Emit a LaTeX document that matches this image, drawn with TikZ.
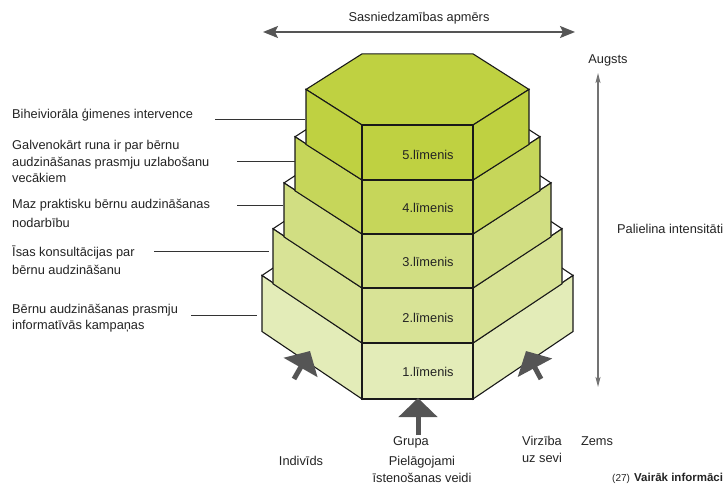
\documentclass[tikz,border=0pt]{standalone}
\usepackage{fontspec}
\setmainfont{Liberation Sans}
\usetikzlibrary{arrows.meta}
\definecolor{gFive}{RGB}{191,209,65}
\definecolor{gFour}{RGB}{198,214,90}
\definecolor{gThree}{RGB}{209,222,130}
\definecolor{gTwo}{RGB}{216,227,150}
\definecolor{gOne}{RGB}{227,236,184}
\definecolor{arrowgray}{RGB}{85,85,85}
\definecolor{txt}{RGB}{35,35,35}
\newcommand\pyrlevel[6]{% #1 top, #2 bottom, #3 half-extent, #4 slope, #5 side colour, #6 top colour
  \pgfmathsetmacro\pxl{362-#3}
  \pgfmathsetmacro\pxr{473+#3}
  \pgfmathsetmacro\pta{#1-#4*#3}
  \pgfmathsetmacro\ptb{#1-2*#4*#3}
  \pgfmathsetmacro\pba{#2-#4*#3}
  \draw[face, fill=#6] (362,#1) -- (\pxl,\pta) -- (362,\ptb) -- (473,\ptb) -- (\pxr,\pta) -- (473,#1) -- cycle;
  \draw[face, fill=#5] (362,#1) -- (362,#2) -- (\pxl,\pba) -- (\pxl,\pta) -- cycle;
  \draw[face, fill=#5] (473,#1) -- (473,#2) -- (\pxr,\pba) -- (\pxr,\pta) -- cycle;
  \draw[face, fill=#5] (362,#1) rectangle (473,#2);
}
\begin{document}
\begin{tikzpicture}[x=1pt,y=-1pt,
  font=\fontsize{12.8}{17}\selectfont,
  face/.style={draw=black!90, line width=1.1pt, line join=miter},
  lbl/.style={text=txt, inner sep=0pt},
  leader/.style={draw=black!80, line width=0.9pt},
  blockarrow/.style={draw=arrowgray, line width=5pt, -{Triangle[width=38pt,length=19pt]}},
  dimarrow/.style={draw=arrowgray, line width=1.8pt, {Stealth[length=15pt,width=12pt,inset=3pt]}-{Stealth[length=15pt,width=12pt,inset=3pt]}},
  axisarrow/.style={draw=black!55, line width=1.1pt, {Stealth[length=10pt,width=5pt,inset=2pt]}-{Stealth[length=10pt,width=5pt,inset=2pt]}}]
\useasboundingbox (0,0) rectangle (727,486);

% pyramid, bottom level first
\pyrlevel{343}{399}{100}{0.675}{gOne}{white}
\pyrlevel{288}{343}{89}{0.665}{gTwo}{white}
\pyrlevel{234}{288}{78}{0.655}{gThree}{white}
\pyrlevel{180}{234}{67}{0.645}{gFour}{white}
\pyrlevel{125}{180}{56}{0.635}{gFive}{gFive}

% level labels
\node[lbl, anchor=base] (lv5) at (428,159.5) {5.līmenis};
\node[lbl, anchor=base] (lv4) at (428,212.5) {4.līmenis};
\node[lbl, anchor=base] (lv3) at (428,266.5) {3.līmenis};
\node[lbl, anchor=base] (lv2) at (428,322.5) {2.līmenis};
\node[lbl, anchor=base] (lv1) at (428,376.5) {1.līmenis};

% left labels (base = baseline of the last line)
\node[lbl, anchor=base west, align=left] (t1) at (12,118.5) {Biheiviorāla ģimenes intervence};
\node[lbl, anchor=base west, align=left, font=\fontsize{12.8}{16.5}\selectfont] (t2) at (12,182.5) {Galvenokārt runa ir par bērnu\\audzināšanas prasmju uzlabošanu\\vecākiem};
\node[lbl, anchor=base west, align=left, font=\fontsize{12.8}{19}\selectfont] (t3) at (12,227.5) {Maz praktisku bērnu audzināšanas\\nodarbību};
\node[lbl, anchor=base west, align=left, font=\fontsize{12.8}{18}\selectfont] (t4) at (12,274.5) {Īsas konsultācijas par\\bērnu audzināšanu};
\node[lbl, anchor=base west, align=left, font=\fontsize{12.8}{16.5}\selectfont] (t5) at (12,329.5) {Bērnu audzināšanas prasmju\\informatīvās kampaņas};

% leader lines
\coordinate (c1a) at (215,119); \coordinate (c1b) at (305,119);
\coordinate (c2a) at (237,161); \coordinate (c2b) at (295,161);
\coordinate (c3a) at (237,205); \coordinate (c3b) at (283,205);
\coordinate (c4a) at (154,251); \coordinate (c4b) at (269,251);
\coordinate (c5a) at (191,315); \coordinate (c5b) at (257,315);
\draw[leader] (c1a) -- (c1b);
\draw[leader] (c2a) -- (c2b);
\draw[leader] (c3a) -- (c3b);
\draw[leader] (c4a) -- (c4b);
\draw[leader] (c5a) -- (c5b);

% block arrows
\coordinate (bAt) at (418,435); \coordinate (bAh) at (418,398);
\coordinate (lAt) at (294,379); \coordinate (lAh) at (310,351);
\coordinate (rAt) at (541,379); \coordinate (rAh) at (526,351);
\draw[blockarrow] (bAt) -- (bAh);
\draw[blockarrow] (lAt) -- (lAh);
\draw[blockarrow] (rAt) -- (rAh);

% top dimension arrow
\coordinate (hA) at (263,32); \coordinate (hB) at (575,32);
\draw[dimarrow] (hA) -- (hB);
\node[lbl, anchor=base] (reach) at (419,21.5) {Sasniedzamības apmērs};

% right axis arrow
\coordinate (vA) at (598,73); \coordinate (vB) at (598,387);
\draw[axisarrow] (vA) -- (vB);
\node[lbl, anchor=base] (high) at (608,63.5) {Augsts};
\node[lbl, anchor=base west] (intens) at (617,233.5) {Palielina intensitāti};
\node[lbl, anchor=base] (low) at (597,445.5) {Zems};

% bottom labels
\node[lbl, anchor=base] (grp) at (411,445.5) {Grupa};
\node[lbl, anchor=base, align=center] (self) at (542,462.5) {Virzība\\uz sevi};
\node[lbl, anchor=base] (indiv) at (301,465.5) {Indivīds};
\node[lbl, anchor=base, align=center, font=\fontsize{12.8}{17.5}\selectfont] (adapt) at (422,482.5) {Pielāgojami\\īstenošanas veidi};
\node[lbl, anchor=base west, font=\fontsize{10}{12}\selectfont] (ref) at (612,481.5) {(27)};
\node[lbl, anchor=base west, font=\fontsize{11.5}{12}\selectfont\bfseries] (more) at (634,481.5) {Vairāk informāci};
\end{tikzpicture}
\end{document}
